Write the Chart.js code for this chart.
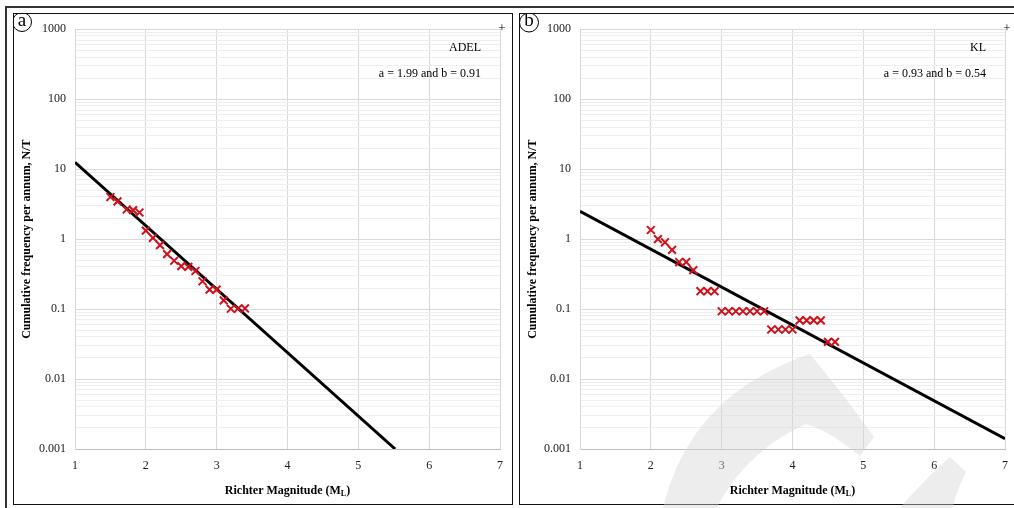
<!DOCTYPE html>
<html lang="en">
<head>
<meta charset="UTF-8">
<title>Gutenberg-Richter plots</title>
<script src="https://cdn.jsdelivr.net/npm/chart.js"></script>
<style>
  html, body { margin: 0; padding: 0; background: #fff; overflow: hidden; }
  body { width: 1014px; height: 508px; position: relative; }
  .frame-top { position: absolute; left: 5px; top: 6px; width: 1020px; height: 2px; background: #333; }
  .frame-left { position: absolute; left: 5px; top: 6px; width: 2px; height: 510px; background: #333; }
  .panel { position: absolute; top: 13px; width: 500px; height: 492px; }
  .box { position: absolute; top: 13px; width: 500px; height: 492px; box-sizing: border-box; border: 1.5px solid #111; pointer-events: none; }
  .mark { position: absolute; left: 0; top: 0; pointer-events: none; }
</style>
</head>
<body>
<div class="frame-top"></div>
<div class="frame-left"></div>

<div class="panel" style="left:13px"><canvas id="chartA"></canvas></div>
<div class="panel" style="left:519px"><canvas id="chartB"></canvas></div>
<div class="box" style="left:13px"></div>
<div class="box" style="left:519px"></div>

<!-- watermark over panel b -->
<svg class="mark" width="1014" height="508">
  <path d="M663,508 C680,440 720,385 810,354 C835,385 855,410 874,437 L860,456 C840,440 825,430 806,424 C770,440 735,470 717,508 Z" fill="#d4d4d4" fill-opacity="0.42"/>
  <path d="M900,508 C915,490 935,470 950,457 L966,472 C960,485 955,495 953,508 Z" fill="#d4d4d4" fill-opacity="0.42"/>
</svg>

<script>
// (a) ADEL
const magA = [1.5, 1.6, 1.73, 1.82, 1.91, 2.0, 2.1, 2.2, 2.3, 2.4, 2.5, 2.6, 2.7, 2.8, 2.9, 3.0, 3.1, 3.2, 3.3, 3.4];
const freqA = [4.0, 3.46, 2.65, 2.6, 2.4, 1.32, 1.04, 0.82, 0.61, 0.49, 0.41, 0.40, 0.35, 0.25, 0.19, 0.19, 0.133, 0.101, 0.101, 0.102];
const fitMagA = [1, 5.52];
const fitFreqA = [12.5, 0.001];

// (b) KL
const magB = [2.0, 2.1, 2.2, 2.3, 2.4, 2.5, 2.6, 2.7, 2.8, 2.9, 3.0, 3.1, 3.2, 3.3, 3.4, 3.5, 3.6,
              3.7, 3.8, 3.9, 4.0, 4.1, 4.2, 4.3, 4.4, 4.5, 4.6];
const freqB = [1.35, 1.0, 0.9, 0.7, 0.47, 0.47, 0.36, 0.18, 0.18, 0.18, 0.093, 0.093, 0.093, 0.093, 0.093, 0.093, 0.093,
               0.051, 0.051, 0.051, 0.051, 0.069, 0.069, 0.069, 0.069, 0.034, 0.034];
const fitMagB = [1, 7];
const fitFreqB = [2.5, 0.0014];

// axes
const xTicks = [1, 2, 3, 4, 5, 6, 7];
const yMajorTicks = [0.001, 0.01, 0.1, 1, 10, 100, 1000];
const yTickLabels = ['0.001', '0.01', '0.1', '1', '10', '100', '1000'];

const FONT = '"Liberation Serif", "Times New Roman", serif';

// minor log grid lines 1..9 x each decade
const yGrid = [];
yMajorTicks.forEach((d, i) => {
  const steps = i === yMajorTicks.length - 1 ? [1] : [1, 2, 3, 4, 5, 6, 7, 8, 9];
  steps.forEach(k => yGrid.push({ value: d * k, major: k === 1, label: k === 1 ? yTickLabels[i] : '' }));
});

const decor = {
  id: 'decor',
  afterDraw(chart, args, o) {
    const { ctx, chartArea: a } = chart;
    ctx.save();
    // circled panel letter
    ctx.strokeStyle = '#000';
    ctx.lineWidth = 1;
    ctx.beginPath();
    ctx.arc(o.tagX, o.tagY, 9.5, 0, Math.PI * 2);
    ctx.stroke();
    ctx.fillStyle = '#000';
    ctx.textAlign = 'center';
    ctx.textBaseline = 'middle';
    ctx.font = '19px ' + FONT;
    ctx.fillText(o.tag, o.tagX, o.tagY - 1);
    // small plus at top right
    ctx.font = '13px ' + FONT;
    ctx.fillText('+', a.right + 2, a.top - 1);
    // site name and a/b values
    ctx.font = '12px ' + FONT;
    ctx.textAlign = 'right';
    ctx.fillText(o.site, a.right - 19, a.top + 19);
    ctx.fillText(o.eq, a.right - 19, a.top + 45);
    // x title with subscript L
    ctx.font = 'bold 12px ' + FONT;
    const p1 = 'Richter Magnitude (M', p3 = ')';
    ctx.textAlign = 'left';
    const w1 = ctx.measureText(p1).width, w3 = ctx.measureText(p3).width;
    ctx.font = 'bold 8px ' + FONT;
    const w2 = ctx.measureText('L').width;
    let x = (a.left + a.right) / 2 - (w1 + w2 + w3) / 2;
    const y = 478;
    ctx.font = 'bold 12px ' + FONT;
    ctx.fillText(p1, x, y);
    ctx.font = 'bold 8px ' + FONT;
    ctx.fillText('L', x + w1, y + 3);
    ctx.font = 'bold 12px ' + FONT;
    ctx.fillText(p3, x + w1 + w2, y);
    // y title
    ctx.translate(14, (a.top + a.bottom) / 2);
    ctx.rotate(-Math.PI / 2);
    ctx.textAlign = 'center';
    ctx.fillText('Cumulative frequency per annum, N/T', 0, 0);
    ctx.restore();
  }
};

function makeChart(id, mags, freqs, fitMags, fitFreqs, cfg) {
  const pts = mags.map((m, i) => ({ x: m, y: freqs[i] }));
  const fit = fitMags.map((m, i) => ({ x: m, y: fitFreqs[i] }));
  return new Chart(document.getElementById(id), {
    type: 'scatter',
    data: {
      datasets: [
        {
          data: pts,
          pointStyle: 'crossRot',
          pointRadius: 5.5,
          pointBorderWidth: 2,
          borderColor: '#d0101a',
          backgroundColor: '#d0101a',
          order: 0
        },
        {
          data: fit,
          showLine: true,
          pointRadius: 0,
          borderColor: '#000',
          borderWidth: 3,
          order: 1
        }
      ]
    },
    options: {
      responsive: true,
      maintainAspectRatio: false,
      animation: false,
      devicePixelRatio: 1,
      layout: { padding: { top: 15, right: cfg.padRight, left: 0, bottom: 0 } },
      scales: {
        x: {
          type: 'linear',
          min: 1,
          max: 7,
          afterBuildTicks: s => { s.ticks = xTicks.map(v => ({ value: v })); },
          afterFit: s => { s.height = 56; },
          ticks: { padding: 10, color: '#222', font: { family: FONT, size: 12 } },
          grid: { color: '#d9d9d9', drawTicks: false },
          border: { color: '#bfbfbf' }
        },
        y: {
          type: 'logarithmic',
          min: 0.001,
          max: 1000,
          afterBuildTicks: s => { s.ticks = yGrid.map(t => ({ value: t.value, major: t.major, lbl: t.label })); },
          afterFit: s => { s.width = cfg.yWidth; },
          ticks: {
            autoSkip: false,
            padding: 9,
            color: '#222',
            font: { family: FONT, size: 12 },
            callback: (v, i) => yGrid[i].label
          },
          grid: {
            drawTicks: false,
            color: c => (c.index !== undefined && yGrid[c.index] && yGrid[c.index].major) ? '#d9d9d9' : '#efefef'
          },
          border: { color: '#d9d9d9' }
        }
      },
      plugins: {
        legend: { display: false },
        tooltip: { enabled: false },
        decor: cfg.decor
      }
    },
    plugins: [decor]
  });
}

makeChart('chartA', magA, freqA, fitMagA, fitFreqA, {
  padRight: 12, yWidth: 62,
  decor: { tag: 'a', tagX: 9, tagY: 9, site: 'ADEL', eq: 'a = 1.99 and b = 0.91' }
});
makeChart('chartB', magB, freqB, fitMagB, fitFreqB, {
  padRight: 14, yWidth: 61,
  decor: { tag: 'b', tagX: 10, tagY: 9.5, site: 'KL', eq: 'a = 0.93 and b = 0.54' }
});
</script>
</body>
</html>
